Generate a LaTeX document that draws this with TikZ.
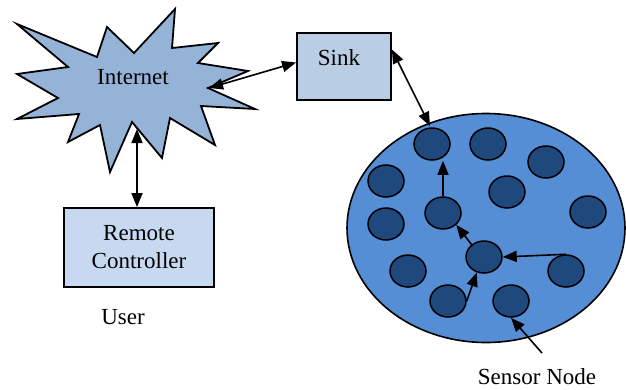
\documentclass[tikz,border=0pt]{standalone}
\usepackage{fontspec}
\setmainfont{Liberation Serif}
\usetikzlibrary{shapes.geometric,arrows.meta}
\definecolor{starfill}{RGB}{149,179,215}
\definecolor{sinkfill}{RGB}{185,205,229}
\definecolor{remfill}{RGB}{198,217,241}
\definecolor{fieldfill}{RGB}{85,142,213}
\definecolor{sensfill}{RGB}{31,73,125}
\begin{document}
\begin{tikzpicture}[x=1pt,y=-1pt,
  txt/.style={font=\fontsize{23}{28}\selectfont, inner sep=0pt},
  box/.style={draw, line width=1.8pt, inner sep=0pt},
  field/.style={ellipse, draw, line width=1.6pt, fill=fieldfill, minimum width=278pt, minimum height=229pt, inner sep=0pt},
  sensor/.style={ellipse, draw, line width=1.5pt, fill=sensfill, minimum width=36pt, minimum height=32pt, inner sep=0pt},
  both/.style={{Triangle[length=14pt,width=11pt]}-{Triangle[length=14pt,width=11pt]}, line width=1.6pt},
  one/.style={-{Triangle[length=14pt,width=11pt]}, line width=1.6pt}]
\useasboundingbox (0,0) rectangle (626,389);
% Internet starburst
\draw[fill=starfill, line width=1.8pt, line join=miter]
  (17,24) -- (97,57) -- (107,27) -- (134,53) -- (175,9) -- (172,48) -- (218,43)
  -- (198,63) -- (248,71) -- (208,88) -- (255,109) -- (201,106) -- (215,145)
  -- (170,118) -- (162,158) -- (132,122) -- (110,172) -- (100,125) -- (68,142)
  -- (79,114) -- (17,119) -- (58,98) -- (17,74) -- (68,67) -- cycle;
\node[txt] (inet) at (133,77) {Internet};
\coordinate (inetR) at (209,88);
\coordinate (inetB) at (137,129);
% Sink
\node[box, fill=sinkfill, minimum width=94pt, minimum height=67pt] (sink) at (344,66.5) {};
\node[txt] (sinklbl) at (339,58) {Sink};
% Remote controller
\node[box, fill=remfill, minimum width=150pt, minimum height=79pt, txt, align=center] (remote) at (139,247.5) {Remote\\Controller};
\node[txt] (user) at (123,317) {User};
% Sensor field
\node[field] (field) at (486,228) {};
\coordinate (fieldtop) at (430,126);
\node[sensor] (n1) at (432,144) {};
\node[sensor] (n2) at (488,144) {};
\node[sensor] (n3) at (546,162) {};
\node[sensor] (n4) at (386,181) {};
\node[sensor] (n5) at (507,192) {};
\node[sensor] (n6) at (443,213) {};
\node[sensor] (n7) at (588,212) {};
\node[sensor] (n8) at (386,224) {};
\node[sensor] (n9) at (484,257) {};
\node[sensor] (n10) at (408,271) {};
\node[sensor] (n11) at (566,271) {};
\node[sensor] (n12) at (448,301) {};
\node[sensor] (n13) at (511,301) {};
\node[txt] (senslbl) at (537,377) {Sensor Node};
\coordinate (sensptr) at (542,353);
% Connectors
\draw[both] (inetR) -- ([yshift=4pt]sink.west);
\draw[both] (inetB) -- (remote.north -| inetB);
\draw[both] ([yshift=17pt]sink.east) -- (fieldtop);
\draw[one] (n6.north) -- (n6.north |- n1.south);
\draw[one] (n9.135) -- (n6.south east);
\draw[one] (n11.north) -- (n9.east);
\draw[one] (n12.east) -- (n9.245);
\draw[one] (sensptr) -- (n13.south);
\end{tikzpicture}
\end{document}
